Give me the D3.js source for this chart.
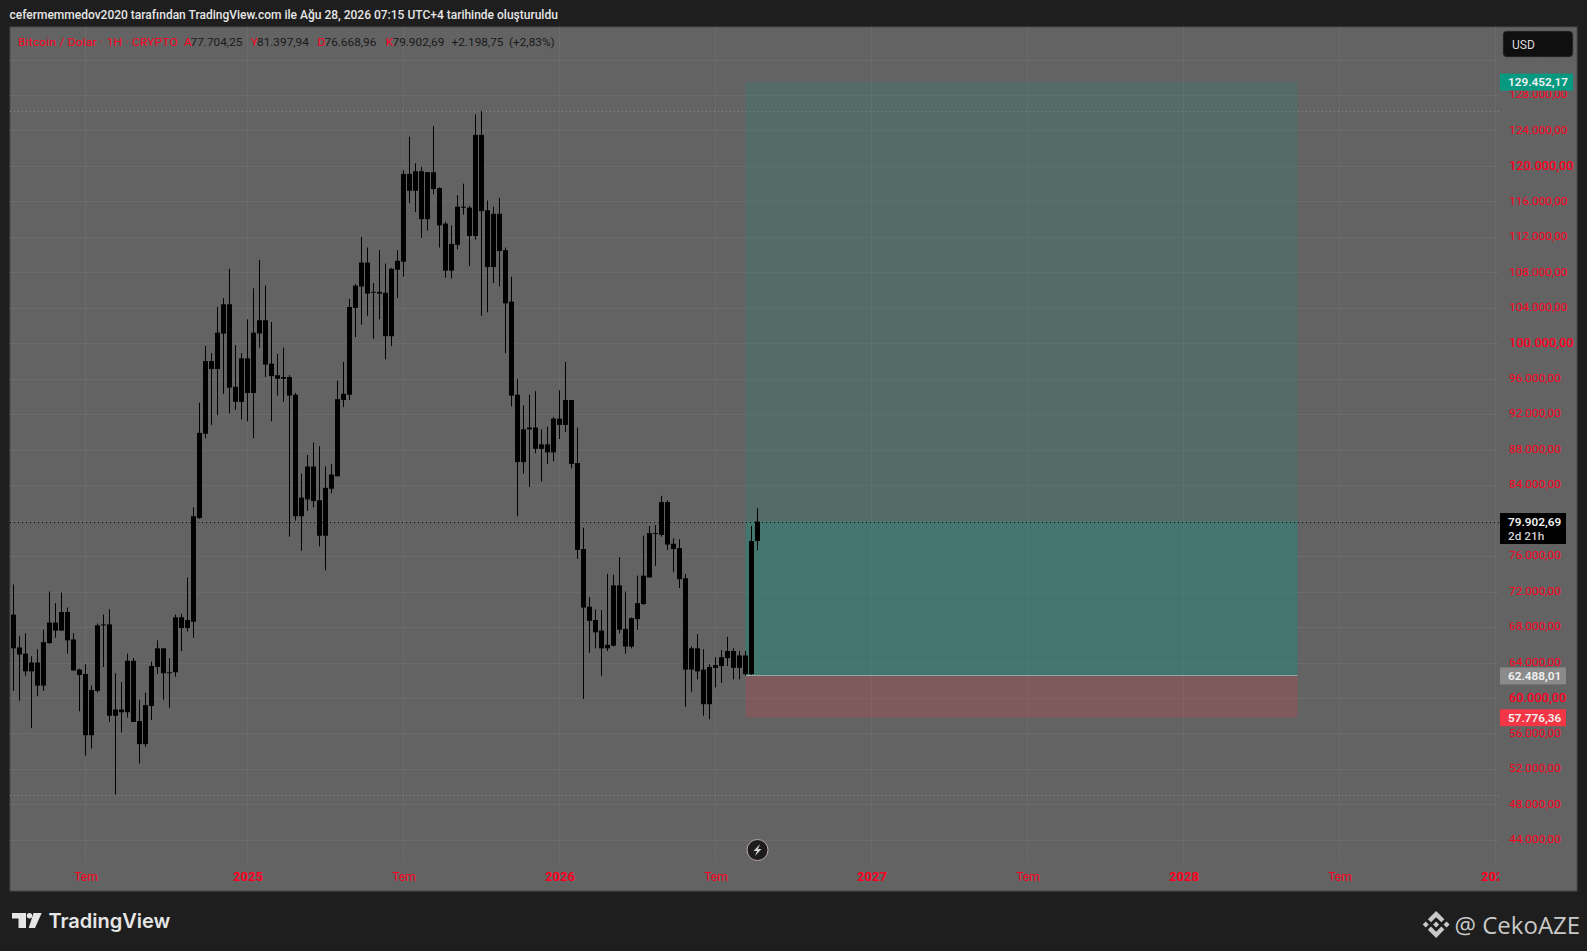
<!DOCTYPE html>
<html><head><meta charset="utf-8">
<script src="https://cdn.jsdelivr.net/npm/d3@7"></script>
<style>html,body{margin:0;padding:0;background:#1e1e1e;overflow:hidden}svg{display:block}</style>
</head><body><svg id="c" width="1587" height="951"></svg>
<script>
const titleText="cefermemmedov2020 tarafından TradingView.com ile Ağu 28, 2026 07:15 UTC+4 tarihinde oluşturuldu";
const opens=[69400,65700,65000,63000,64000,61400,66200,68500,67600,69700,66600,63200,62700,55800,60800,68200,68300,58000,58700,58400,64200,57400,54800,59100,63500,65600,62800,62900,69100,67900,68600,80300,89800,98000,97100,101100,104400,95100,93400,98300,94400,101100,102600,97700,96400,96000,96200,94200,80500,82400,86100,82300,78300,83600,85000,93600,94200,104000,106400,109100,105700,105800,105700,100800,108300,109200,119100,117200,119400,114000,119300,117500,113500,108200,111100,115400,115300,112100,123500,115000,108600,114600,110500,104700,94200,86600,90300,90500,88100,88600,87700,91500,90800,93600,86500,76800,70300,68800,67600,65600,65900,72700,67800,65800,68900,70600,73600,78600,78400,82100,77400,76900,73500,63200,65600,63200,59300,63400,63600,64500,65300,63400,64800,62700,77704.25];
const highs=[72800,67000,67300,64700,65500,67700,72000,70700,71900,70200,67300,63300,63800,61400,68400,69400,70000,62800,61800,65000,64500,59800,60600,64100,66500,65600,64500,69400,69500,73600,81500,93300,99700,98900,104100,105100,108400,99800,98900,102700,106200,109400,106500,102400,98800,99500,96400,94400,85300,87400,88800,88400,86100,86400,95800,97900,105000,106700,112000,110800,106800,110500,109000,108500,110500,119500,123300,120300,119900,119300,124500,117600,113700,113300,116700,118000,115500,125800,126200,116100,115400,116400,110800,107500,96000,93000,94200,94600,90300,90600,91700,94700,97900,93600,90500,79200,71400,70000,69900,74000,73900,75900,72000,69100,73800,78300,79400,79500,82800,82300,78000,77900,74000,65800,67200,65500,63800,64600,65400,66900,65600,65300,65300,79400,81397.94];
const lows=[60800,59700,62500,56600,60200,60800,66100,66800,67600,65000,63100,58500,53500,54300,60600,63500,57300,49100,56100,57800,57300,52600,54500,57500,62700,59800,58900,62400,65300,67500,66800,80200,89300,90800,91900,94300,92100,92500,91400,91200,89300,99500,96200,91200,94100,93400,78200,80000,76600,81100,81500,77100,74400,83100,85000,92800,93600,100700,102100,103100,100500,102700,98200,99700,105100,107500,115800,114800,111900,112700,116800,110800,107400,107300,110600,114500,108700,111700,103100,103500,106800,106400,98900,92900,80500,85300,83800,87600,84400,86400,86700,89200,90000,85900,75700,59900,65100,65600,62500,65300,65800,67300,65000,65600,67700,70500,73600,74900,78200,76700,74200,72400,59000,60700,62100,58000,57600,61200,61700,63600,62100,62100,62500,62600,76668.96];
const closes=[65600,64900,63000,64000,61400,66300,68500,67600,69700,66500,63100,62600,55800,60900,68200,68300,58000,58700,58400,64200,57300,54800,59200,63600,65600,62800,62900,69100,67900,68800,80500,89900,98000,97100,101200,104400,95000,93400,98300,94400,101200,102600,97600,96300,96000,96200,94100,80500,82600,86100,82200,78300,83700,85200,93700,94300,104100,106500,109100,105600,105800,105600,100800,108400,109300,119100,117200,119400,114000,119300,117400,113300,108200,111200,115400,115300,112100,123500,114900,108600,114600,110400,104500,94100,86600,90300,90500,88100,88600,87700,91500,90800,93600,86400,76700,70200,68700,67400,65600,66000,72700,67700,65800,69000,70700,73800,78600,78500,82100,77300,76800,73400,63200,65600,63000,59300,63500,63700,64600,65300,63400,64800,62700,77704.25,79902.69];

const priceTicks=[132000,128000,124000,120000,116000,112000,108000,104000,100000,96000,92000,88000,84000,80000,76000,72000,68000,64000,60000,56000,52000,48000,44000];
const majorPrices=[120000,100000,60000];
const hiddenPrices=[132000,80000];
const timeIndex=[12,39,65,91,117,143,169,195,221,247];
const timeLabels=["Tem","2025","Tem","2026","Tem","2027","Tem","2028","Tem","2029"];

const lastClose=79902.69, highMark=126200, lowMark=49100;
const entry=62488.01, target=129452.17, stop=57776.36;
const positionStart=122, positionEnd=214;

const RED="#ff0020";
const loc=d3.formatLocale({decimal:",",thousands:".",grouping:[3],currency:["",""]});
const fmt=loc.format(",.2f");
const UI="'Roboto','Liberation Sans',sans-serif";

const svg=d3.select("#c");
const P={l:10,r:1577,t:27,b:891,axisX:1499,axisY:863};
const x=d3.scaleLinear().domain([0,247]).range([13.5,1495.5]);
const y=d3.scaleLinear().domain([60000,128000]).range([698,95]);

const defs=svg.append("defs");
defs.append("clipPath").attr("id","plot").append("rect").attr("x",P.l).attr("y",P.t).attr("width",P.axisX-P.l).attr("height",P.axisY-P.t);
defs.append("clipPath").attr("id","timelocal").append("rect").attr("x",P.l).attr("y",0).attr("width",P.axisX-P.l).attr("height",P.b-P.axisY);

// background
svg.append("rect").attr("width",1587).attr("height",951).attr("fill","#1e1e1e");
svg.append("rect").attr("x",P.l).attr("y",P.t).attr("width",P.r-P.l).attr("height",P.b-P.t).attr("fill","#636363").attr("stroke","#4a4a4a").attr("stroke-width",1);

// title
svg.append("text").attr("x",9.5).attr("y",19).attr("fill","#e6e6e6").attr("font-family",UI).attr("font-size",12).attr("font-weight",500).text(titleText);

// grid
const grid=svg.append("g").attr("clip-path","url(#plot)");
grid.selectAll(".h").data(priceTicks).join("line")
  .attr("x1",P.l).attr("x2",P.axisX).attr("y1",d=>Math.round(y(d))+.5).attr("y2",d=>Math.round(y(d))+.5).attr("stroke","#6b6b6b");
grid.selectAll(".v").data(timeIndex).join("line")
  .attr("x1",d=>x(d)).attr("x2",d=>x(d)).attr("y1",P.t).attr("y2",P.axisY).attr("stroke","#6b6b6b");

// hi/lo dotted lines
[highMark,lowMark].forEach(v=>grid.append("line").attr("x1",P.l).attr("x2",P.axisX).attr("y1",Math.round(y(v))+.5).attr("y2",Math.round(y(v))+.5).attr("stroke","#8c8c8c").attr("stroke-dasharray","1 3"));

// position tool
const px0=x(positionStart),px1=x(positionEnd);
const zone=(a,b,col,op)=>grid.append("rect").attr("x",px0).attr("width",px1-px0).attr("y",y(a)).attr("height",y(b)-y(a)).attr("fill",col).attr("fill-opacity",op);
zone(target,entry,"#089981",.16);
zone(lastClose,entry,"#089981",.23);
zone(entry,stop,"#f23645",.2);
grid.append("line").attr("x1",px0).attr("x2",px1).attr("y1",Math.round(y(entry))-.5).attr("y2",Math.round(y(entry))-.5).attr("stroke","#9aa8a5").attr("stroke-width",1);

// current price line
grid.append("line").attr("x1",P.l).attr("x2",P.axisX).attr("y1",Math.round(y(lastClose))+.5).attr("y2",Math.round(y(lastClose))+.5).attr("stroke","#000").attr("stroke-dasharray","1 3");

// candles
const idx=d3.range(closes.length);
const c=grid.append("g").selectAll("g").data(idx).join("g");
c.append("rect").attr("x",i=>x(i)-.5).attr("width",1).attr("y",i=>y(highs[i])).attr("height",i=>y(lows[i])-y(highs[i])).attr("fill","#000");
c.append("rect").attr("x",i=>x(i)-2.5).attr("width",5)
  .attr("y",i=>y(Math.max(opens[i],closes[i])))
  .attr("height",i=>Math.max(1,Math.abs(y(opens[i])-y(closes[i])))).attr("fill","#000");

// price axis
const yAxis=d3.axisRight(y).tickValues(priceTicks.filter(v=>!hiddenPrices.includes(v))).tickSize(0).tickPadding(0).tickFormat(fmt);
const gy=svg.append("g").attr("transform","translate(1509,0)").call(yAxis);
gy.select(".domain").remove();
gy.selectAll("text").attr("fill",RED).attr("font-family",UI)
  .attr("x",0).attr("y",-1.3).attr("dy",".34em")
  .attr("font-size",d=>majorPrices.includes(d)?12.8:11.8)
  .attr("font-weight",d=>majorPrices.includes(d)?500:400);

// time axis
const xAxis=d3.axisBottom(x).tickValues(timeIndex).tickSize(0).tickPadding(0).tickFormat(d=>timeLabels[timeIndex.indexOf(d)]);
const gx=svg.append("g").attr("transform","translate(0,"+P.axisY+")").call(xAxis);
gx.attr("clip-path","url(#timelocal)");
gx.select(".domain").remove();
gx.selectAll("text").attr("fill",RED).attr("font-family",UI)
  .attr("y",13.5).attr("dy",".34em")
  .attr("font-size",d=>timeLabels[timeIndex.indexOf(d)]==="Tem"?12:13)
  .attr("font-weight",d=>timeLabels[timeIndex.indexOf(d)]==="Tem"?400:700);

// legend
const leg=svg.append("g").attr("font-family",UI).attr("font-size",11.8);
leg.append("text").attr("x",18).attr("y",45.5).attr("fill",RED).attr("letter-spacing",.27).text("Bitcoin / Dolar · 1H · CRYPTO");
const legendParts=[["A",184,RED],["77.704,25",190.6,"#1a1a1a"],["Y",250.7,RED],["81.397,94",257,"#1a1a1a"],["D",317.6,RED],["76.668,96",324.5,"#1a1a1a"],["K",385.8,RED],["79.902,69",392.5,"#1a1a1a"],["+2.198,75",451.6,"#1a1a1a"],["(+2,83%)",509,"#1a1a1a"]];
legendParts.forEach(p=>leg.append("text").attr("x",p[1]).attr("y",45.5).attr("fill",p[2]).text(p[0]));

// USD box
svg.append("rect").attr("x",1503).attr("y",31).attr("width",70).attr("height",26).attr("rx",4).attr("fill","#0f0f0f").attr("stroke","#4a4a4a").attr("stroke-dasharray","2 1");
svg.append("text").attr("x",1512).attr("y",49).attr("fill","#dcdcdc").attr("font-family",UI).attr("font-size",12).text("USD");

// price tags
const tag=(v,w,col,txt,h)=>{
  const yy=y(v);
  svg.append("rect").attr("x",1500).attr("y",yy-8.5).attr("width",w).attr("height",h||17).attr("fill",col);
  svg.append("text").attr("x",1508).attr("y",yy+4).attr("fill","#f2f2f2").attr("font-family",UI).attr("font-size",11.8).attr("font-weight",600).text(txt);
};
tag(target,73,"#089981",fmt(target));
tag(entry,66,"#8a8a8a",fmt(entry));
tag(stop,66,"#f23645",fmt(stop));
tag(lastClose,66,"#000",fmt(lastClose),31);
svg.append("text").attr("x",1508).attr("y",y(lastClose)+18).attr("fill","#cfcfcf").attr("font-family",UI).attr("font-size",11.8).attr("font-weight",500).text("2d 21h");

// bolt
const b=svg.append("g").attr("transform","translate(757.5,850)");
b.append("circle").attr("r",10.5).attr("fill","#1c1c1c").attr("stroke","#b9a8ae").attr("stroke-width",1);
b.append("path").attr("d","M2.5-6L-4 1H-.5L-2.5 6L4-1H.5Z").attr("fill","#cfcfcf");

// logos
const tv=svg.append("g").attr("fill","#e6e6e6");
tv.append("path").attr("d","M12 913H26V928H18.5V918.5H12Z");
tv.append("circle").attr("cx",29.5).attr("cy",915.8).attr("r",2.7);
tv.append("path").attr("d","M33.5 913H41.7L35 928H28.7Z");
svg.append("text").attr("x",48.5).attr("y",928).attr("fill","#e6e6e6").attr("font-family","Inter,'Noto Sans',sans-serif").attr("font-weight",600).attr("font-size",20).text("TradingView");

svg.append("path").attr("transform","translate(1422.7,911) scale(.84)").attr("fill","#c9c9c9")
  .attr("d","M9.8 13.5L16 7.3l6.2 6.2 3.6-3.6L16 0 6.2 9.9l3.6 3.6zM0 16l3.6-3.6L7.2 16l-3.6 3.6L0 16zm9.8 2.5l6.2 6.2 6.2-6.2 3.6 3.6L16 32l-9.8-9.8 3.6-3.7zM24.8 16l3.6-3.6L32 16l-3.6 3.6-3.6-3.6zM19.6 16L16 19.6 12.4 16l3.6-3.6 3.6 3.6z");
svg.append("text").attr("x",1454.5).attr("y",934).attr("fill","#c9c9c9").attr("font-family","'Open Sans','Noto Sans',sans-serif").attr("font-size",24).text("@ CekoAZE");
</script></body></html>
